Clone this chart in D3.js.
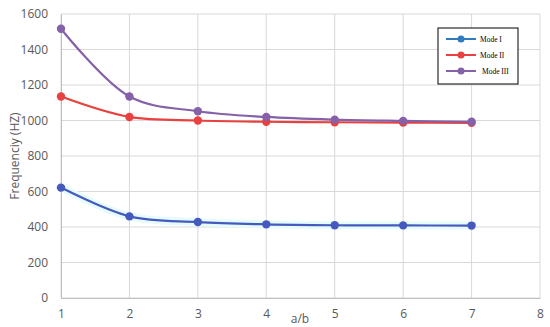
<!DOCTYPE html>
<html>
<head>
<meta charset="utf-8">
<script src="https://cdn.jsdelivr.net/npm/d3@7"></script>
<style>
  body { margin: 0; background: #fff; }
  svg { display: block; }
</style>
</head>
<body>
<div id="chart"></div>
<script>
// Data
const ratios = [1, 2, 3, 4, 5, 6, 7];
const modeI = [622, 460, 428, 415, 410, 409, 408];
const modeII = [1135, 1020, 1000, 993, 990, 988, 987];
const modeIII = [1517, 1135, 1052, 1020, 1005, 998, 993];
const xTicks = [1, 2, 3, 4, 5, 6, 7, 8];
const yTicks = [0, 200, 400, 600, 800, 1000, 1200, 1400, 1600];

const series = [
  { name: "Mode I", values: modeI, color: "#4659bd", legendColor: "#2e7bc0" },
  { name: "Mode II", values: modeII, color: "#e8413f", legendColor: "#e8413f" },
  { name: "Mode III", values: modeIII, color: "#8461a8", legendColor: "#8461a8" }
];

const width = 550, height = 327;
const margin = { top: 14, right: 10, bottom: 29, left: 61 };
const plotW = width - margin.left - margin.right;
const plotH = height - margin.top - margin.bottom;

const svg = d3.select("#chart").append("svg")
  .attr("width", width)
  .attr("height", height);

const g = svg.append("g")
  .attr("transform", `translate(${margin.left},${margin.top})`);

const x = d3.scaleLinear().domain([1, 8]).range([0, plotW]);
const y = d3.scaleLinear().domain([0, 1600]).range([plotH, 0]);

// grid lines
g.selectAll("line.hgrid")
  .data(yTicks)
  .enter().append("line")
  .attr("class", "hgrid")
  .attr("x1", 0).attr("x2", plotW)
  .attr("y1", d => y(d)).attr("y2", d => y(d))
  .attr("stroke", "#d9d9d9").attr("stroke-width", 1);

g.selectAll("line.vgrid")
  .data(xTicks)
  .enter().append("line")
  .attr("class", "vgrid")
  .attr("y1", 0).attr("y2", plotH)
  .attr("x1", d => x(d)).attr("x2", d => x(d))
  .attr("stroke", "#d9d9d9").attr("stroke-width", 1);

// axes
const xAxis = g.append("g")
  .attr("transform", `translate(0,${plotH})`)
  .call(d3.axisBottom(x).tickValues(xTicks).tickSize(0).tickPadding(11).tickFormat(d3.format("d")));
xAxis.select(".domain").attr("stroke", "#bfbfbf");

const yAxis = g.append("g")
  .call(d3.axisLeft(y).tickValues(yTicks).tickSize(0).tickPadding(13).tickFormat(d3.format("d")));
yAxis.select(".domain").attr("stroke", "#bfbfbf");

g.selectAll(".tick text")
  .attr("fill", "#595959")
  .style("font-family", "'Open Sans', 'DejaVu Sans', sans-serif")
  .style("font-size", "12px");

// axis titles
svg.append("text")
  .attr("x", 300).attr("y", 323)
  .attr("text-anchor", "middle")
  .attr("fill", "#595959")
  .style("font-family", "'Open Sans', 'DejaVu Sans', sans-serif")
  .style("font-size", "12px")
  .text("a/b");

svg.append("text")
  .attr("transform", "translate(19,156) rotate(-90)")
  .attr("text-anchor", "middle")
  .attr("fill", "#595959")
  .style("font-family", "'Open Sans', 'DejaVu Sans', sans-serif")
  .style("font-size", "12px")
  .text("Frequenciy (HZ)");

const line = d3.line()
  .x((d, i) => x(ratios[i]))
  .y(d => y(d))
  .curve(d3.curveCatmullRom.alpha(0.5));

// faint cyan glow under Mode I
g.append("path")
  .attr("d", line(modeI))
  .attr("fill", "none")
  .attr("stroke", "#e6fcfc")
  .attr("stroke-width", 8)
  .attr("stroke-linecap", "square");

series.forEach(s => {
  g.append("path")
    .attr("d", line(s.values))
    .attr("fill", "none")
    .attr("stroke", s.color)
    .attr("stroke-width", 2.2);

  g.selectAll(null)
    .data(s.values)
    .enter().append("circle")
    .attr("cx", (d, i) => x(ratios[i]))
    .attr("cy", d => y(d))
    .attr("r", 4.2)
    .attr("fill", s.color);
});

// legend
const legend = svg.append("g").attr("transform", "translate(438,28)");
legend.append("rect")
  .attr("width", 80).attr("height", 56)
  .attr("fill", "#fff")
  .attr("stroke", "#000").attr("stroke-width", 1);

series.forEach((s, i) => {
  const row = legend.append("g").attr("transform", `translate(0,${11 + i * 16})`);
  row.append("line")
    .attr("x1", 8).attr("x2", 38)
    .attr("stroke", s.legendColor).attr("stroke-width", 2);
  row.append("circle")
    .attr("cx", 23).attr("r", 3.5)
    .attr("fill", s.legendColor);
  row.append("text")
    .attr("x", 42 + (i === 2 ? 2 : 0)).attr("y", 2.5)
    .attr("fill", "#000")
    .style("font-family", "'Liberation Serif', 'DejaVu Serif', serif")
    .style("font-size", "7.5px")
    .text(s.name);
});
</script>
</body>
</html>
